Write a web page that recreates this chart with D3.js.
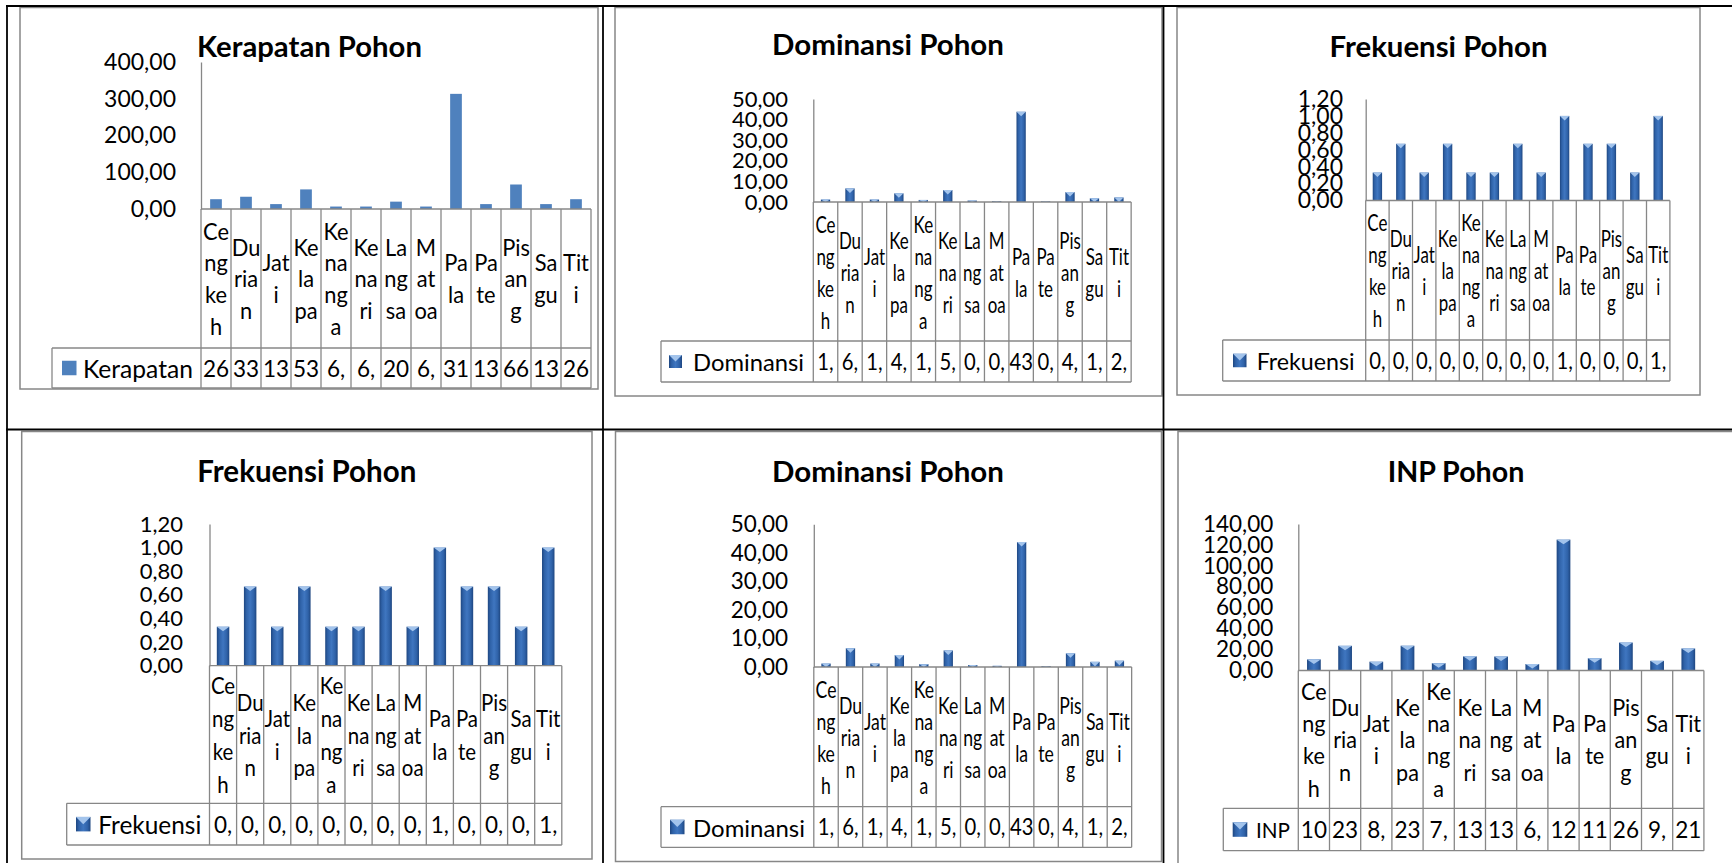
<!DOCTYPE html>
<html>
<head>
<meta charset="utf-8">
<script src="https://cdn.jsdelivr.net/npm/d3@7"></script>
<style>
  html, body { margin: 0; padding: 0; background: #fff; }
  svg { display: block; font-family: Lato, "Noto Sans", sans-serif; }
</style>
</head>
<body>
<script>
// ---------------- DATA ----------------
const categories = ["Cengkeh","Durian","Jati","Kelapa","Kenanga","Kenari","Langsa","Matoa","Pala","Pate","Pisang","Sagu","Titi"];
const categoryLines = [["Ce","ng","ke","h"],["Du","ria","n"],["Jat","i"],["Ke","la","pa"],["Ke","na","ng","a"],["Ke","na","ri"],["La","ng","sa"],["M","at","oa"],["Pa","la"],["Pa","te"],["Pis","an","g"],["Sa","gu"],["Tit","i"]];
const kerapatan = [26.67,33.33,13.33,53.33,6.67,6.67,20.00,6.67,313.33,13.33,66.67,13.33,26.67];
const dominansi = [1.2,6.6,1.2,4.2,1.0,5.8,0.7,0.4,43.8,0.3,4.8,1.8,2.2];
const frekuensi = [0.33,0.67,0.33,0.67,0.33,0.33,0.67,0.33,1.00,0.67,0.67,0.33,1.00];
const inp = [10.61,23.57,8.39,23.66,7.01,13.50,13.37,6.20,125.05,11.72,26.69,9.20,21.05];
const kerapatanTicks = [0,100,200,300,400];
const dominansiTicks = [0,10,20,30,40,50];
const frekuensiTicks = [0,0.2,0.4,0.6,0.8,1.0,1.2];
const inpTicks = [0,20,40,60,80,100,120,140];

// ---------------- LAYOUT ----------------
const charts = [
  {title:"Kerapatan Pohon", series:"Kerapatan", values:kerapatan, ticks:kerapatanTicks, flat:true,
   frame:[20,7.5,578,381.5], titleX:309.5, titleY:57, titleW:225,
   labelRight:176, labelFont:23, y0:209, yTop:62, x0:201, colW:30, catBot:348, dataBot:388,
   legendLeft:52, markerX:62, markerS:14.5, legendX:83, legendW:110,
   catLH:31.7, catFont:23.5, catSX:0.93, barFrac:0.39, valFont:22.5, valSX:1},
  {title:"Dominansi Pohon", series:"Dominansi", values:dominansi, ticks:dominansiTicks,
   frame:[615,7.5,547,388.5], titleX:888, titleY:55, titleW:232,
   labelRight:788, labelFont:22, y0:202, yTop:99, x0:813.3, colW:24.45, catBot:341, dataBot:382,
   legendLeft:661, markerX:669, markerS:13, legendX:693, legendW:111,
   catLH:32, catFont:23.5, catSX:0.72, barFrac:0.38, valFont:22.5, valSX:0.9},
  {title:"Frekuensi Pohon", series:"Frekuensi", values:frekuensi, ticks:frekuensiTicks,
   frame:[1177,7.5,523,387.5], titleX:1438.5, titleY:57, titleW:218,
   labelRight:1343, labelFont:23, y0:200.5, yTop:99, x0:1365.7, colW:23.4, catBot:340, dataBot:381,
   legendLeft:1222.7, markerX:1233, markerS:13.5, legendX:1256.7, legendW:98,
   catLH:32, catFont:23.5, catSX:0.72, barFrac:0.40, valFont:22.5, valSX:0.9},
  {title:"Frekuensi Pohon", series:"Frekuensi", values:frekuensi, ticks:frekuensiTicks,
   frame:[21.7,431.5,570.3,427.5], titleX:306.8, titleY:481.7, titleW:219,
   labelRight:183, labelFont:22, y0:665.7, yTop:524, x0:209.5, colW:27.1, catBot:803.3, dataBot:845,
   legendLeft:66.7, markerX:76, markerS:14.5, legendX:98.3, legendW:103,
   catLH:32.8, catFont:23.5, catSX:0.87, barFrac:0.46, valFont:22.5, valSX:1},
  {title:"Dominansi Pohon", series:"Dominansi", values:dominansi, ticks:dominansiTicks,
   frame:[615.5,431.5,546,430], titleX:888, titleY:481.7, titleW:232,
   labelRight:788, labelFont:22.5, y0:667, yTop:524.3, x0:813.8, colW:24.45, catBot:806.7, dataBot:847.3,
   legendLeft:661, markerX:670, markerS:14.5, legendX:693, legendW:112,
   catLH:32, catFont:23.5, catSX:0.75, barFrac:0.38, valFont:22.5, valSX:0.9},
  {title:"INP Pohon", series:"INP", values:inp, ticks:inpTicks,
   frame:[1178,431.5,600,500], titleX:1456, titleY:481.7, titleW:136.6,
   labelRight:1273.3, labelFont:22.5, y0:670.5, yTop:524, x0:1298.3, colW:31.2, catBot:808.3, dataBot:850.7,
   legendLeft:1223.3, markerX:1232.7, markerS:14.6, legendX:1256, legendW:34,
   catLH:32.3, catFont:23.5, catSX:0.92, barFrac:0.44, valFont:22.5, valSX:1}
];

const GRID = "#878787";
const loc = d3.formatLocale({decimal: ",", thousands: ".", grouping: [3], currency: ["", ""]});
const fmt2 = loc.format(".2f");

const svg = d3.select("body").append("svg").attr("width", 1732).attr("height", 863);
const defs = svg.append("defs");
const grad = defs.append("linearGradient").attr("id", "bevel").attr("x1", 0).attr("x2", 1).attr("y1", 0).attr("y2", 0);
[[0,"#1e4680"],[0.2,"#2f62a8"],[0.5,"#3f76c0"],[0.8,"#2f62a8"],[1,"#1e4680"]]
  .forEach(([o,c]) => grad.append("stop").attr("offset", o).attr("stop-color", c));

function fitWidth(sel, target) {
  const node = sel.node();
  const w = node.getComputedTextLength();
  const fs = parseFloat(sel.attr("font-size"));
  if (w > 0) sel.attr("font-size", fs * target / w);
}

function bevelShape(g, x, y, w, h) {
  g.append("rect").attr("x", x).attr("y", y).attr("width", w).attr("height", h).attr("fill", "url(#bevel)");
  const th = Math.min(4.5, h);
  g.append("path")
    .attr("d", `M${x},${y}L${x + w},${y}L${x + w / 2},${y + th}Z`)
    .attr("fill", "#a3c4ec");
}

charts.forEach(cfg => {
  const g = svg.append("g");
  const [fx, fy, fw, fh] = cfg.frame;
  g.append("rect").attr("x", fx).attr("y", fy).attr("width", fw).attr("height", fh)
    .attr("fill", "#fff").attr("stroke", GRID).attr("stroke-width", 1.5);

  // title
  const t = g.append("text").attr("x", cfg.titleX).attr("y", cfg.titleY)
    .attr("text-anchor", "middle").attr("font-weight", 700).attr("font-size", 28)
    .attr("fill", "#000").text(cfg.title);
  fitWidth(t, cfg.titleW);

  const nC = categories.length;
  const x1 = cfg.x0 + nC * cfg.colW;
  const x = d3.scaleBand().domain(categories).range([cfg.x0, x1]).paddingInner(0).paddingOuter(0);
  const y = d3.scaleLinear().domain([0, d3.max(cfg.ticks)]).range([cfg.y0, cfg.yTop]);

  // y axis
  const ax = g.append("g").attr("transform", `translate(${cfg.x0},0)`)
    .call(d3.axisLeft(y).tickValues(cfg.ticks).tickFormat(fmt2).tickSize(0).tickSizeOuter(0)
      .tickPadding(cfg.x0 - cfg.labelRight));
  ax.select(".domain").attr("stroke", GRID).attr("stroke-width", 1.3);
  ax.selectAll("text").attr("font-size", cfg.labelFont).attr("font-family", "Lato, sans-serif").attr("fill", "#000");

  // bars
  const bw = cfg.colW * cfg.barFrac;
  const bars = g.append("g");
  categories.forEach((c, i) => {
    const v = cfg.values[i];
    const bx = x(c) + (x.bandwidth() - bw) / 2;
    const by = y(v);
    const bh = y(0) - y(v);
    if (cfg.flat) {
      bars.append("rect").attr("x", bx).attr("y", by).attr("width", bw).attr("height", bh).attr("fill", "#4f81bd");
    } else {
      bevelShape(bars.append("g"), bx, by, bw, bh);
    }
  });

  // data table grid
  const tl = g.append("g").attr("stroke", GRID).attr("stroke-width", 1.3).attr("fill", "none");
  tl.append("line").attr("x1", cfg.x0).attr("x2", x1).attr("y1", cfg.y0).attr("y2", cfg.y0);
  tl.append("line").attr("x1", cfg.legendLeft).attr("x2", x1).attr("y1", cfg.catBot).attr("y2", cfg.catBot);
  tl.append("line").attr("x1", cfg.legendLeft).attr("x2", x1).attr("y1", cfg.dataBot).attr("y2", cfg.dataBot);
  tl.append("line").attr("x1", cfg.legendLeft).attr("x2", cfg.legendLeft).attr("y1", cfg.catBot).attr("y2", cfg.dataBot);
  d3.range(nC + 1).forEach(i => {
    const xx = cfg.x0 + i * cfg.colW;
    tl.append("line").attr("x1", xx).attr("x2", xx).attr("y1", cfg.y0).attr("y2", cfg.dataBot);
  });

  // category labels
  const cy = (cfg.y0 + cfg.catBot) / 2;
  const cl = g.append("g").attr("font-size", cfg.catFont).attr("fill", "#000");
  categories.forEach((c, i) => {
    const lines = categoryLines[i];
    const cx = x(c) + x.bandwidth() / 2;
    lines.forEach((ln, j) => {
      const ly = cy + (j - (lines.length - 1) / 2) * cfg.catLH;
      cl.append("text").attr("transform", `translate(${cx},${ly}) scale(${cfg.catSX},1)`)
        .attr("text-anchor", "middle").attr("dominant-baseline", "central").text(ln);
    });
  });

  // legend key + data values
  const ry = (cfg.catBot + cfg.dataBot) / 2;
  if (cfg.flat) {
    g.append("rect").attr("x", cfg.markerX).attr("y", ry - cfg.markerS / 2)
      .attr("width", cfg.markerS).attr("height", cfg.markerS).attr("fill", "#4f81bd");
  } else {
    const mg = g.append("g");
    const s = cfg.markerS;
    mg.append("rect").attr("x", cfg.markerX).attr("y", ry - s / 2).attr("width", s).attr("height", s).attr("fill", "url(#bevel)");
    mg.append("path").attr("d", `M${cfg.markerX},${ry - s / 2}L${cfg.markerX + s},${ry - s / 2}L${cfg.markerX + s / 2},${ry}Z`)
      .attr("fill", "#a3c4ec");
  }
  const lt = g.append("text").attr("x", cfg.legendX).attr("y", ry).attr("dominant-baseline", "central")
    .attr("font-size", 22).attr("fill", "#000").text(cfg.series);
  fitWidth(lt, cfg.legendW);

  const vl = g.append("g").attr("font-size", cfg.valFont).attr("fill", "#000");
  categories.forEach((c, i) => {
    const cx = x(c) + x.bandwidth() / 2;
    vl.append("text").attr("transform", `translate(${cx},${ry}) scale(${cfg.valSX},1)`)
      .attr("text-anchor", "middle").attr("dominant-baseline", "central")
      .text(fmt2(cfg.values[i]).slice(0, 2));
  });
});

// outer document table lines (black)
const bl = svg.append("g").attr("stroke", "#000").attr("stroke-width", 1.8);
bl.append("line").attr("x1", 6).attr("x2", 1732).attr("y1", 6).attr("y2", 6);
bl.append("line").attr("x1", 6).attr("x2", 1732).attr("y1", 429.5).attr("y2", 429.5);
bl.append("line").attr("x1", 7).attr("x2", 7).attr("y1", 5).attr("y2", 863);
bl.append("line").attr("x1", 603).attr("x2", 603).attr("y1", 5).attr("y2", 863);
bl.append("line").attr("x1", 1163.5).attr("x2", 1163.5).attr("y1", 5).attr("y2", 863);
</script>
</body>
</html>
